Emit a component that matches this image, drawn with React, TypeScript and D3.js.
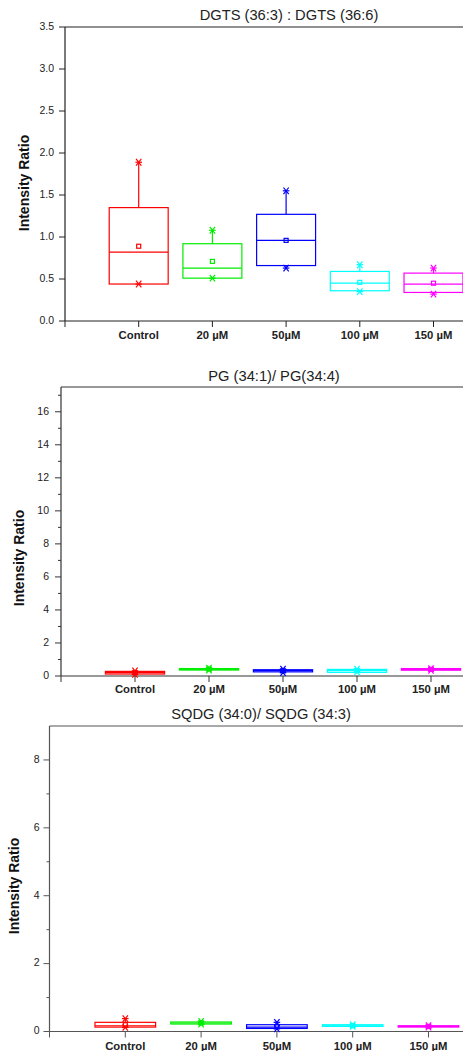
import React from "react";
import * as d3 from "d3";

const categories = ["Control", "20 µM", "50µM", "100 µM", "150 µM"];
const boxColors = ["#ff0000", "#00ee00", "#0000ff", "#00ffff", "#ff00ff"];

// DGTS (36:3) : DGTS (36:6)
const dgtsMin = [0.44, 0.51, 0.63, 0.35, 0.32];
const dgtsQ1 = [0.44, 0.51, 0.66, 0.36, 0.34];
const dgtsMedian = [0.82, 0.63, 0.96, 0.45, 0.44];
const dgtsQ3 = [1.35, 0.92, 1.27, 0.59, 0.57];
const dgtsMax = [1.89, 1.08, 1.55, 0.67, 0.63];
const dgtsMean = [0.89, 0.71, 0.96, 0.46, 0.45];

// PG (34:1)/ PG(34:4)
const pgMin = [0.1, 0.36, 0.2, 0.25, 0.35];
const pgQ1 = [0.12, 0.36, 0.25, 0.22, 0.35];
const pgMedian = [0.2, 0.4, 0.32, 0.32, 0.4];
const pgQ3 = [0.28, 0.45, 0.38, 0.4, 0.45];
const pgMax = [0.3, 0.48, 0.42, 0.42, 0.45];
const pgMean = [0.2, 0.42, 0.32, 0.32, 0.4];

// SQDG (34:0)/ SQDG (34:3)
const sqdgMin = [0.12, 0.22, 0.08, 0.15, 0.13];
const sqdgQ1 = [0.13, 0.22, 0.09, 0.15, 0.13];
const sqdgMedian = [0.17, 0.25, 0.13, 0.17, 0.15];
const sqdgQ3 = [0.27, 0.28, 0.2, 0.2, 0.17];
const sqdgMax = [0.38, 0.3, 0.27, 0.2, 0.17];
const sqdgMean = [0.2, 0.25, 0.14, 0.17, 0.15];

const dgtsTicks = [0, 0.5, 1, 1.5, 2, 2.5, 3, 3.5];
const pgTicks = [0, 2, 4, 6, 8, 10, 12, 14, 16];
const pgMinor = [1, 3, 5, 7, 9, 11, 13, 15, 17];
const sqdgTicks = [0, 2, 4, 6, 8];
const sqdgMinor = [1, 3, 5, 7];

const FONT = "'Liberation Sans', Arial, sans-serif";

type PanelProps = {
  title: string;
  titleX: number;
  titleY: number;
  left: number;
  top: number;
  bottom: number;
  step: number;
  yMax: number;
  ticks: number[];
  minor: number[];
  fmt: (v: number) => string;
  labelGap: number;
  yLabelX: number;
  yLabelY: number;
  catY: number;
  axisColor: string;
  mins: number[];
  q1: number[];
  med: number[];
  q3: number[];
  maxs: number[];
  means: number[];
};

function Star({ x, y, c }: { x: number; y: number; c: string }) {
  const s = 3.3;
  return (
    <g stroke={c} strokeWidth={1.2}>
      <line x1={x - s} x2={x + s} y1={y} y2={y} />
      <line x1={x - s * 0.8} x2={x + s * 0.8} y1={y - s} y2={y + s} />
      <line x1={x - s * 0.8} x2={x + s * 0.8} y1={y + s} y2={y - s} />
    </g>
  );
}

function Panel(p: PanelProps) {
  const x = d3.scaleLinear().domain([0, 6]).range([p.left, p.left + 6 * p.step]);
  const y = d3.scaleLinear().domain([0, p.yMax]).range([p.bottom, p.top]);
  const hw = p.step * 0.4;
  return (
    <g>
      <text x={p.titleX} y={p.titleY} textAnchor="middle" dominantBaseline="middle" fontFamily={FONT} fontSize={14.7} fill="#222">
        {p.title}
      </text>
      {/* top frame */}
      <line x1={p.left} x2={463} y1={p.top} y2={p.top} stroke={p.axisColor} strokeWidth={1.2} />
      {/* y axis */}
      <line x1={p.left} x2={p.left} y1={p.top} y2={p.bottom} stroke={p.axisColor} strokeWidth={1.2} />
      {p.ticks.map((t) => (
        <g key={"t" + t}>
          <line x1={p.left - 6} x2={p.left} y1={y(t)} y2={y(t)} stroke={p.axisColor} strokeWidth={1} />
          <text x={p.left - p.labelGap} y={y(t)} textAnchor="end" dominantBaseline="middle" fontFamily={FONT} fontSize={10.5} fill="#222">
            {p.fmt(t)}
          </text>
        </g>
      ))}
      {p.minor.map((t) => (
        <line key={"m" + t} x1={p.left - 3} x2={p.left} y1={y(t)} y2={y(t)} stroke={p.axisColor} strokeWidth={1} />
      ))}
      <text
        transform={`translate(${p.yLabelX},${p.yLabelY}) rotate(-90)`}
        textAnchor="middle"
        dominantBaseline="middle"
        fontFamily={FONT}
        fontSize={14}
        fontWeight="bold"
        fill="#111"
      >
        Intensity Ratio
      </text>
      {/* x axis */}
      <line x1={p.left} x2={463} y1={p.bottom} y2={p.bottom} stroke={p.axisColor} strokeWidth={1.2} />
      <line x1={p.left} x2={p.left} y1={p.bottom} y2={p.bottom + 6} stroke={p.axisColor} strokeWidth={1} />
      {categories.map((c, i) => (
        <g key={c}>
          <line x1={x(i + 1)} x2={x(i + 1)} y1={p.bottom} y2={p.bottom + 6} stroke={p.axisColor} strokeWidth={1} />
          <text x={x(i + 1)} y={p.catY} textAnchor="middle" dominantBaseline="middle" fontFamily={FONT} fontSize={11.3} fontWeight="bold" fill="#222">
            {c}
          </text>
        </g>
      ))}
      {/* boxes */}
      {categories.map((c, i) => {
        const cx = x(i + 1);
        const col = boxColors[i];
        return (
          <g key={"b" + c} fill="none" stroke={col} strokeWidth={1.2}>
            <line x1={cx} x2={cx} y1={y(p.q3[i])} y2={y(p.maxs[i])} />
            <line x1={cx} x2={cx} y1={y(p.q1[i])} y2={y(p.mins[i])} />
            <rect x={cx - hw} y={y(p.q3[i])} width={2 * hw} height={Math.max(0.5, y(p.q1[i]) - y(p.q3[i]))} />
            <line x1={cx - hw} x2={cx + hw} y1={y(p.med[i])} y2={y(p.med[i])} />
            <rect x={cx - 2} y={y(p.means[i]) - 2} width={4} height={4} />
            <Star x={cx} y={y(p.maxs[i])} c={col} />
            <Star x={cx} y={y(p.mins[i])} c={col} />
          </g>
        );
      })}
    </g>
  );
}

export default function App() {
  return (
    <div style={{ position: "absolute", left: 0, top: 0 }}>
      <svg width={463} height={1051} style={{ display: "block" }}>
        <rect width={463} height={1051} fill="#fff" />
        <Panel
          title="DGTS (36:3) : DGTS (36:6)"
          titleX={289}
          titleY={16}
          left={65}
          top={27}
          bottom={321}
          step={73.7}
          yMax={3.5}
          ticks={dgtsTicks}
          minor={[]}
          fmt={d3.format(".1f")}
          labelGap={11}
          yLabelX={25}
          yLabelY={183}
          catY={336}
          axisColor="#222"
          mins={dgtsMin}
          q1={dgtsQ1}
          med={dgtsMedian}
          q3={dgtsQ3}
          maxs={dgtsMax}
          means={dgtsMean}
        />
        <Panel
          title="PG (34:1)/ PG(34:4)"
          titleX={274}
          titleY={377}
          left={61}
          top={387}
          bottom={676}
          step={74}
          yMax={17.5}
          ticks={pgTicks}
          minor={pgMinor}
          fmt={d3.format("d")}
          labelGap={12}
          yLabelX={20}
          yLabelY={558}
          catY={690}
          axisColor="#333"
          mins={pgMin}
          q1={pgQ1}
          med={pgMedian}
          q3={pgQ3}
          maxs={pgMax}
          means={pgMean}
        />
        <Panel
          title="SQDG (34:0)/ SQDG (34:3)"
          titleX={261}
          titleY={715}
          left={49.5}
          top={726}
          bottom={1031.5}
          step={75.8}
          yMax={9}
          ticks={sqdgTicks}
          minor={sqdgMinor}
          fmt={d3.format("d")}
          labelGap={10}
          yLabelX={15}
          yLabelY={886}
          catY={1047}
          axisColor="#555"
          mins={sqdgMin}
          q1={sqdgQ1}
          med={sqdgMedian}
          q3={sqdgQ3}
          maxs={sqdgMax}
          means={sqdgMean}
        />
      </svg>
    </div>
  );
}
